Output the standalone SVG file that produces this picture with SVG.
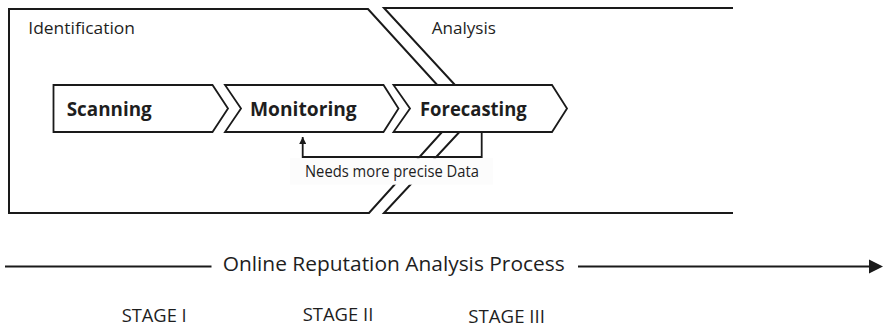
<svg xmlns="http://www.w3.org/2000/svg" width="883" height="326" viewBox="0 0 883 326">
  <defs>
    <style>
      .frame { fill: none; stroke: #1a1a1a; stroke-width: 2; }
      .chev { fill: #ffffff; stroke: #1a1a1a; stroke-width: 1.8; stroke-linejoin: miter; }
      .conn { fill: none; stroke: #1a1a1a; stroke-width: 1.8; }
      .lbl { font-family: "Open Sans", "Liberation Sans", sans-serif; fill: #1e1e1e; }
      .bold { font-weight: bold; font-size: 19.5px; }
      .reg { font-size: 15.5px; }
      .big { font-size: 20px; }
      .stage { font-size: 18px; }
    </style>
    <marker id="arrowUp" viewBox="0 0 10 10" refX="10" refY="5" markerWidth="8" markerHeight="7" markerUnits="userSpaceOnUse" orient="auto">
      <path d="M0,0 L10,5 L0,10 Z" fill="#1a1a1a"/>
    </marker>
  </defs>

  <g id="identification">
    <path class="frame" d="M9,9 L368,9 L461,111 L369,213 L9,213 Z"/>
    <text class="lbl reg" x="28.3" y="34" textLength="106.7" lengthAdjust="spacingAndGlyphs">Identification</text>
  </g>

  <g id="analysis">
    <path class="frame" d="M733,8 L384,8 L479,111 L384,213 L733,213"/>
    <text class="lbl reg" x="431.7" y="34" textLength="64.3" lengthAdjust="spacingAndGlyphs">Analysis</text>
  </g>

  <g id="scanning">
    <path class="chev" d="M53.5,85 L212.5,85 L228,108.5 L212.5,132 L53.5,132 Z"/>
    <text class="lbl bold" x="66.7" y="115.5" textLength="85" lengthAdjust="spacingAndGlyphs">Scanning</text>
  </g>

  <g id="monitoring">
    <path class="chev" d="M225,85 L383.5,85 L398.5,108.5 L383.5,132 L225,132 L241,108.5 Z"/>
    <text class="lbl bold" x="250" y="115.5" textLength="106.7" lengthAdjust="spacingAndGlyphs">Monitoring</text>
  </g>

  <g id="forecasting">
    <path class="chev" d="M393.5,85 L552,85 L567,108.5 L552,132 L393.5,132 L410,108.5 Z"/>
    <text class="lbl bold" x="420" y="115.5" textLength="106.7" lengthAdjust="spacingAndGlyphs">Forecasting</text>
  </g>

  <g id="connectors">
    <rect x="290" y="158.2" width="203" height="26.5" fill="#fcfcfc"/>
    <path class="conn" d="M481.7,132 V157 H302.7 V137" marker-end="url(#arrowUp)"/>
    <text class="lbl reg" x="305" y="176.5" textLength="174" lengthAdjust="spacingAndGlyphs">Needs more precise Data</text>
    <line class="conn" x1="5" y1="266.5" x2="211.5" y2="266.5"/>
    <line class="conn" x1="578" y1="266.5" x2="872" y2="266.5"/>
    <polygon points="869,259.5 883,266.5 869,273.5" fill="#1a1a1a"/>
  </g>

  <g id="process-labels">
    <text class="lbl big" x="222.7" y="271" textLength="342" lengthAdjust="spacingAndGlyphs">Online Reputation Analysis Process</text>
    <text class="lbl stage" x="121.7" y="321.7" textLength="65" lengthAdjust="spacingAndGlyphs">STAGE I</text>
    <text class="lbl stage" x="302.7" y="321" textLength="70.6" lengthAdjust="spacingAndGlyphs">STAGE II</text>
    <text class="lbl stage" x="468.3" y="322.7" textLength="76.7" lengthAdjust="spacingAndGlyphs">STAGE III</text>
  </g>
</svg>
